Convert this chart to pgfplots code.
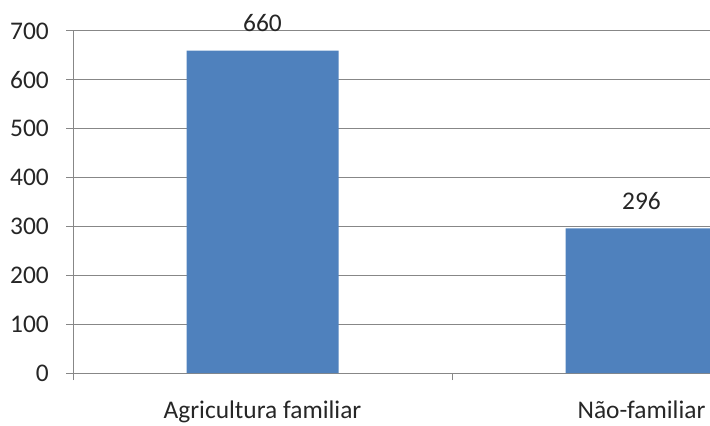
\documentclass[border=0pt]{standalone}
\usepackage{pgfplots}
\pgfplotsset{compat=1.18}
\usepackage{fontspec}
\setmainfont{Carlito}
\definecolor{barblue}{HTML}{4F81BD}
\definecolor{gridgray}{HTML}{878787}
\begin{document}
\begin{tikzpicture}[x=1bp,y=1bp]
\useasboundingbox (0,0) rectangle (710,425);
\begin{axis}[
  at={(73bp,52bp)}, anchor=south west,
  scale only axis, width=637bp, height=342bp,
  xmin=-0.5, xmax=1.1807, ymin=0, ymax=700,
  axis x line=bottom, axis y line=left,
  axis line style={-, draw=gridgray, line width=1bp},
  clip=false,
  ytick={0,100,...,700},
  ymajorgrids, grid style={draw=gridgray, line width=1bp},
  tick align=outside,
  major tick length=7bp,
  tick style={draw=gridgray, line width=1bp},
  xtick={-0.5,0.5},
  xticklabels={},
  extra x ticks={0,1},
  extra x tick labels={Agricultura familiar, Não-familiar},
  extra x tick style={grid=none, major tick length=0pt},
  /pgf/number format/assume math mode=true,
  tick label style={font=\fontsize{25.5}{30}\selectfont, color=black!85},
  yticklabel style={anchor=east, inner sep=0pt, xshift=-17bp},
  xticklabel style={anchor=base, inner sep=0pt, yshift=-45bp},
  ybar, bar width=0.401,
  nodes near coords,
  every node near coord/.append style={font=\fontsize{25.5}{30}\selectfont, color=black!85, anchor=base, inner sep=0pt, yshift=19bp},
]
\addplot[fill=barblue, draw=none] coordinates {(0,660) (1,296)};
\end{axis}
\end{tikzpicture}
\end{document}
